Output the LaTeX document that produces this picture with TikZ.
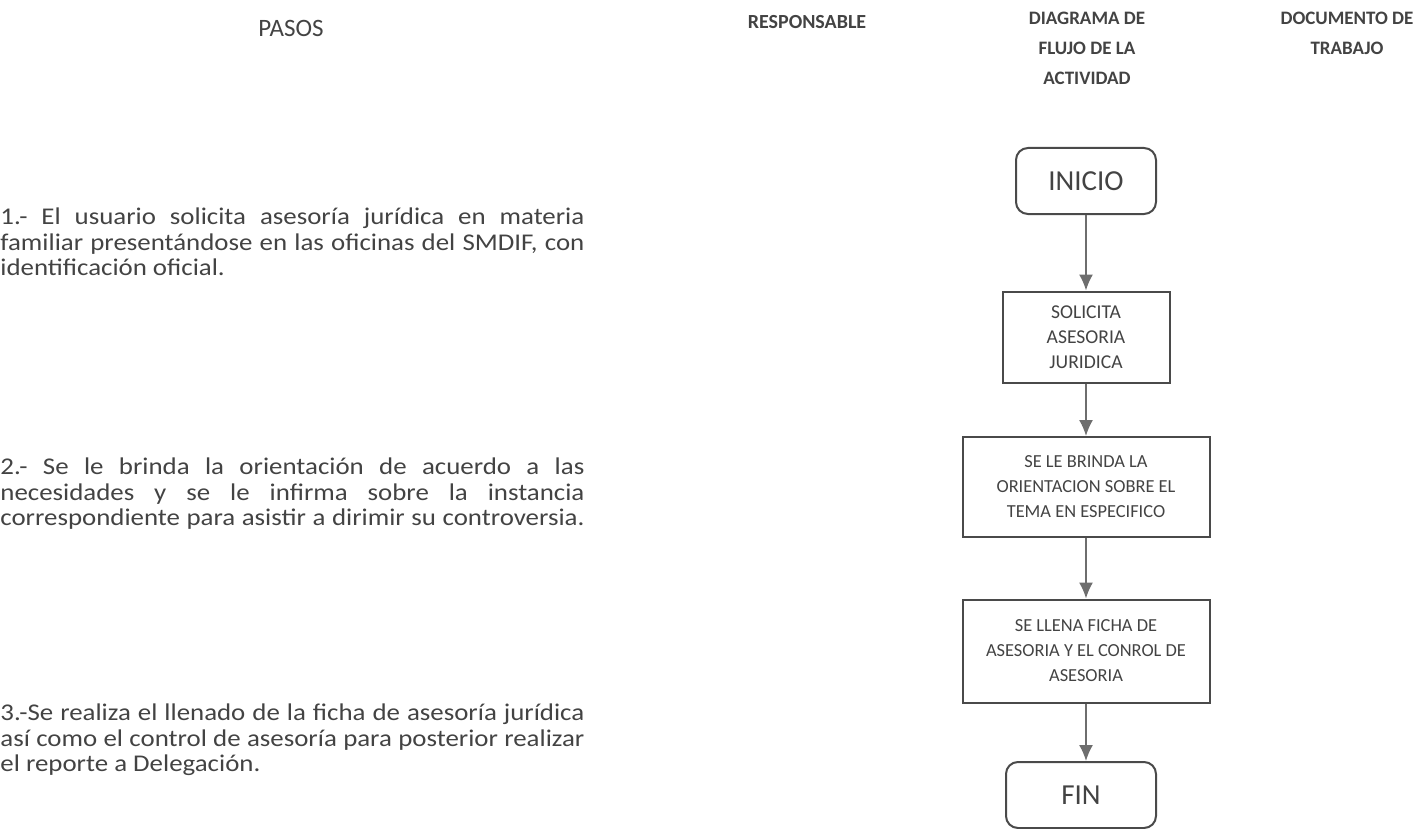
\documentclass[tikz,border=0pt]{standalone}
\usepackage{fontspec}
\setmainfont{Carlito}
\newfontfamily\bodyfont[FakeStretch=1.12]{Carlito}
\usetikzlibrary{arrows.meta}

\definecolor{inkgray}{HTML}{434343}
\definecolor{linegray}{HTML}{4A4A4A}
\definecolor{arrowgray}{HTML}{6E6E6E}

% one justified line of a step text
\newcommand{\jline}[1]{\makebox[292pt][s]{#1}}

\begin{document}
\begin{tikzpicture}[x=0.5pt, y=-0.5pt, auto]
    \tikzstyle{header}   = [text=inkgray, font=\fontsize{9.5}{15}\selectfont\bfseries, align=center]
    \tikzstyle{paso}     = [text=inkgray, font=\bodyfont\fontsize{12}{12.75}\selectfont, align=left, inner sep=0pt, anchor=west]
    \tikzstyle{block}    = [rectangle, draw=linegray, line width=1pt, text=inkgray, align=center, font=\fontsize{9.2}{12.5}\selectfont, inner sep=0pt]
    \tikzstyle{terminal} = [rectangle, draw=linegray, line width=1pt, rounded corners=6pt, text=inkgray, minimum width=70pt, minimum height=33pt, font=\fontsize{14.5}{15}\selectfont, inner sep=0pt]
    \tikzstyle{line}     = [draw=arrowgray, line width=0.8pt, -{Latex[length=8pt,width=7pt]}]

    \useasboundingbox (0,0) rectangle (1419,829);

    % Headers
    \node [header, font=\fontsize{12.5}{15}\selectfont] (pasos) at (291,28) {PASOS};
    \node [header, font=\fontsize{10}{15}\selectfont\bfseries] (responsable) at (807,22) {RESPONSABLE};
    \node [header] (diagrama) at (1087,48) {DIAGRAMA DE\\FLUJO DE LA\\ACTIVIDAD};
    \node [header] (documento) at (1347,33) {DOCUMENTO DE\\TRABAJO};

    % Steps
    \node [paso] (paso1) at (0,242) {\jline{1.- El usuario solicita asesoría jurídica en materia}\\
        \jline{familiar presentándose en las oficinas del SMDIF, con}\\
        identificación oficial.};
    \node [paso] (paso2) at (0,494) {\jline{2.- Se le brinda la orientación de acuerdo a las}\\
        \jline{necesidades y se le infirma sobre la instancia}\\
        \jline{correspondiente para asistir a dirimir su controversia.}};
    \node [paso] (paso3) at (0,740) {\jline{3.-Se realiza el llenado de la ficha de asesoría jurídica}\\
        \jline{así como el control de asesoría para posterior realizar}\\
        el reporte a Delegación.};

    % Flow
    \node [terminal] (inicio) at (1086,181) {INICIO};
    \node [block, below of=inicio, node distance=78pt, minimum width=83.5pt, minimum height=45.5pt, font=\fontsize{9.8}{12.5}\selectfont] (solicita) {SOLICITA\\ASESORIA\\JURIDICA};
    \node [block, below of=solicita, node distance=75pt, minimum width=123.5pt, minimum height=50pt] (brinda) {SE LE BRINDA LA\\ORIENTACION SOBRE EL\\TEMA EN ESPECIFICO};
    \node [block, below of=brinda, node distance=82pt, minimum width=123.5pt, minimum height=51.5pt] (llena) {SE LLENA FICHA DE\\ASESORIA Y EL CONROL DE\\ASESORIA};
    \node [terminal, below of=llena, node distance=72pt, xshift=-2.5pt, minimum width=75pt] (fin) {FIN};

    \path [line] (inicio) -- (solicita);
    \path [line] (solicita) -- (brinda);
    \path [line] (brinda) -- (llena);
    \path [line] (llena.south) -- (llena.south |- fin.north);
\end{tikzpicture}
\end{document}
